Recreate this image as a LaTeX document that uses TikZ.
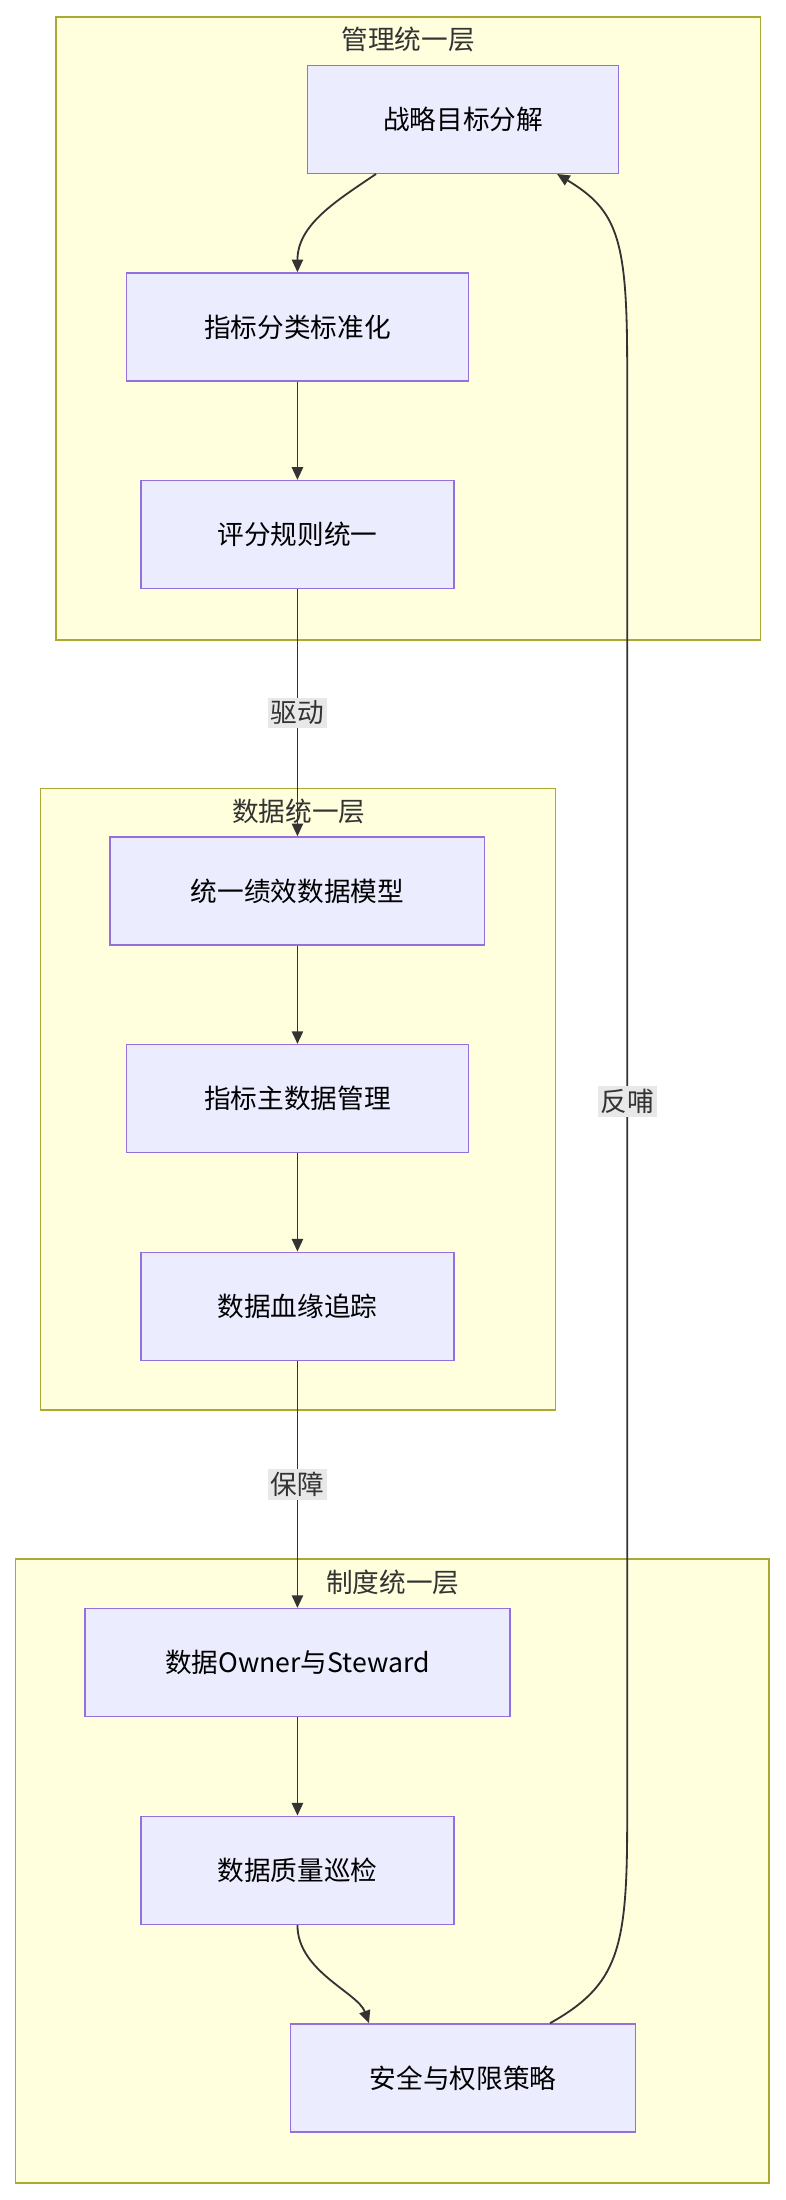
\documentclass[tikz,border=0pt]{standalone}
\usepackage{fontspec}
\setmainfont{Noto Sans CJK SC}
\usetikzlibrary{arrows.meta}
\definecolor{nf}{HTML}{ECECFF}\definecolor{nd}{HTML}{9370DB}
\definecolor{cf}{HTML}{FFFFDE}\definecolor{cd}{HTML}{AAAA33}
\definecolor{ed}{HTML}{333333}\definecolor{lb}{HTML}{E8E8E8}
\begin{document}
\begin{tikzpicture}[x=1pt,y=-1pt,
 cl/.style={draw=cd,fill=cf,line width=1pt},
 nd/.style={draw=nd,fill=nf,line width=1pt,inner sep=0pt,font=\fontsize{19}{22}\selectfont},
 tt/.style={font=\fontsize{19}{22}\selectfont,text=ed},
 ar/.style={draw=ed,line width=1.3pt,-{Triangle[length=9pt,width=8pt]}},
 lab/.style={fill=lb,inner sep=2pt,font=\fontsize{19}{22}\selectfont,text=ed}]
\useasboundingbox (0,0) rectangle (560,1568);
\fill[white] (0,0) rectangle (560,1568);
\draw[cl] (40,12) rectangle (542,456);
\node[tt] (t1) at (291,28) {管理统一层};
\draw[cl] (29,562) rectangle (396,1005);
\node[tt] (t2) at (213,578) {数据统一层};
\draw[cl] (11,1111) rectangle (548,1556);
\node[tt] (t3) at (280,1128) {制度统一层};
\node[nd,minimum width=222,minimum height=77] (a) at (330,85) {战略目标分解};
\node[nd,minimum width=244,minimum height=77] (b) at (212,233) {指标分类标准化};
\node[nd,minimum width=223,minimum height=77] (c) at (212,381) {评分规则统一};
\node[nd,minimum width=267,minimum height=77] (d) at (212,635) {统一绩效数据模型};
\node[nd,minimum width=244,minimum height=77] (e) at (212,783) {指标主数据管理};
\node[nd,minimum width=223,minimum height=77] (f) at (212,931) {数据血缘追踪};
\node[nd,minimum width=303,minimum height=77] (g) at (212,1185) {数据Owner与Steward};
\node[nd,minimum width=223,minimum height=77] (h) at (212,1333) {数据质量巡检};
\node[nd,minimum width=246,minimum height=77] (i) at (330,1481) {安全与权限策略};
\draw[ar] (a.south -| 268,0) .. controls (240,143) and (212,160) .. (b.north);
\draw[ar] (b) -- (c);
\draw[ar] (c) -- node[lab] {驱动} (d);
\draw[ar] (d) -- (e);
\draw[ar] (e) -- (f);
\draw[ar] (f) -- node[lab] {保障} (g);
\draw[ar] (g) -- (h);
\draw[ar] (h.south) .. controls (212,1405) and (255,1420) .. (i.north -| 263,0);
\coordinate (p) at (447,785);
\draw[ar] (i.north -| 392,0) .. controls (440,1415) and (447,1390) .. (447,1300) -- (447,260) .. controls (447,170) and (440,150) .. (a.south -| 397,0);
\node[lab] (fb) at (p) {反哺};
\end{tikzpicture}
\end{document}
